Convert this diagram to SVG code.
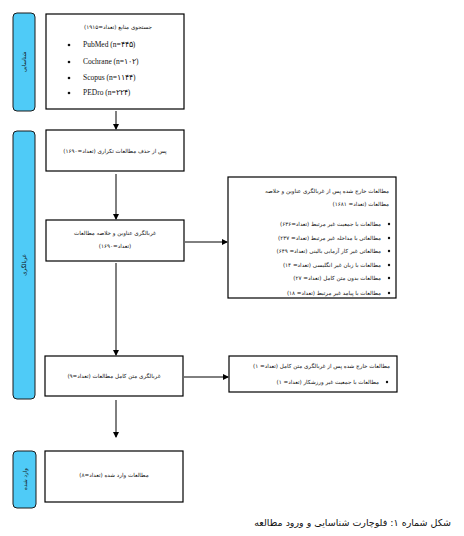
<svg xmlns="http://www.w3.org/2000/svg" width="464" height="536" viewBox="0 0 464 536">
<style>
.box{fill:#fff;stroke:#000;stroke-width:1.2}
.side{fill:#4FCBF7;stroke:#1a1a1a;stroke-width:1}
.fa{font-family:"DejaVu Sans",sans-serif;font-size:5.6px;fill:#111;direction:rtl;unicode-bidi:embed}
.lat{font-family:"Liberation Serif",serif;font-size:7.5px;fill:#111}
.cap{font-family:"DejaVu Sans",sans-serif;font-size:9.5px;fill:#111;direction:rtl;unicode-bidi:embed}
.ln{stroke:#000;stroke-width:1;fill:none}
</style>
<defs>
<marker id="ah" markerWidth="6" markerHeight="6" refX="5" refY="3" orient="auto" markerUnits="userSpaceOnUse">
<path d="M0,0 L6,3 L0,6 Z" fill="#000"/>
</marker>
</defs>
<rect width="464" height="536" fill="#fff"/>

<g id="side1"><rect class="side" x="13" y="13" width="22" height="98" rx="4"/>
<text class="fa" transform="translate(26,62) rotate(-90)" text-anchor="middle">شناسایی</text></g>
<g id="side2"><rect class="side" x="13" y="131" width="22" height="268" rx="4"/>
<text class="fa" transform="translate(26,265) rotate(-90)" text-anchor="middle">غربالگری</text></g>
<g id="side3"><rect class="side" x="13" y="451" width="23" height="57" rx="4"/>
<text class="fa" transform="translate(27,479) rotate(-90)" text-anchor="middle">وارد شده</text></g>

<g id="search"><rect class="box" x="46" y="14" width="138" height="95"/>
<text class="fa" x="118" y="29" text-anchor="middle">جستجوی منابع (تعداد=۱۹۱۵)</text>
<g class="lat"><circle cx="69" cy="45" r="1.3"/><text x="83" y="47">PubMed (n=۴۴۵)</text>
<circle cx="69" cy="62" r="1.3"/><text x="83" y="64">Cochrane (n=۱۰۲)</text>
<circle cx="69" cy="78" r="1.3"/><text x="83" y="80">Scopus (n=۱۱۴۴)</text>
<circle cx="69" cy="93" r="1.3"/><text x="83" y="95">PEDro (n=۲۲۴)</text></g></g>

<g id="dedup"><rect class="box" x="46" y="130" width="138" height="41"/>
<text class="fa" x="115" y="153" text-anchor="middle">پس از حذف مطالعات تکراری (تعداد=۱۶۹۰)</text></g>

<g id="tascreen"><rect class="box" x="46" y="220" width="138" height="41"/>
<text class="fa" x="115" y="235" text-anchor="middle">غربالگری عناوین و خلاصه مطالعات</text>
<text class="fa" x="115" y="248" text-anchor="middle">(تعداد=۱۶۹۰)</text></g>

<g id="excl1"><rect class="box" x="228" y="177" width="168" height="121"/>
<text class="fa" x="389" y="193" text-anchor="start">مطالعات خارج شده پس از غربالگری عناوین و خلاصه</text>
<text class="fa" x="389" y="206" text-anchor="start">مطالعات (تعداد= ۱۶۸۱)</text>
<g fill="#111"><circle cx="389" cy="224" r="1.2"/><circle cx="389" cy="238" r="1.2"/><circle cx="389" cy="251" r="1.2"/><circle cx="389" cy="265" r="1.2"/><circle cx="389" cy="278" r="1.2"/><circle cx="389" cy="293" r="1.2"/></g>
<text class="fa" x="381" y="226" text-anchor="start">مطالعات با جمعیت غیر مرتبط (تعداد=۶۳۶)</text>
<text class="fa" x="381" y="240" text-anchor="start">مطالعاتی با مداخله غیر مرتبط (تعداد= ۲۳۷)</text>
<text class="fa" x="381" y="253" text-anchor="start">مطالعاتی غیر کار آزمایی بالینی (تعداد= ۶۴۹)</text>
<text class="fa" x="381" y="267" text-anchor="start">مطالعات با زبان غیر انگلیسی (تعداد= ۱۴)</text>
<text class="fa" x="381" y="280" text-anchor="start">مطالعات بدون متن کامل (تعداد= ۲۷)</text>
<text class="fa" x="381" y="295" text-anchor="start">مطالعات با پیامد غیر مرتبط (تعداد= ۱۸)</text></g>

<g id="ftscreen"><rect class="box" x="45" y="356" width="138" height="40"/>
<text class="fa" x="114" y="378" text-anchor="middle">غربالگری متن کامل مطالعات (تعداد=۹)</text></g>

<g id="excl2"><rect class="box" x="229" y="356" width="168" height="36"/>
<text class="fa" x="390" y="368" text-anchor="start">مطالعات خارج شده پس از غربالگری متن کامل (تعداد= ۱)</text>
<circle cx="387" cy="382" r="1.2" fill="#111"/>
<text class="fa" x="379" y="384" text-anchor="start">مطالعات با جمعیت غیر ورزشکار (تعداد= ۱)</text></g>

<g id="included"><rect class="box" x="45" y="451" width="138" height="51"/>
<text class="fa" x="114" y="477" text-anchor="middle">مطالعات وارد شده (تعداد=۸)</text></g>

<g id="connectors">
<line class="ln" x1="116" y1="111" x2="116" y2="129" marker-end="url(#ah)"/>
<line class="ln" x1="116" y1="174" x2="116" y2="219" marker-end="url(#ah)"/>
<line class="ln" x1="185" y1="242" x2="227" y2="242" marker-end="url(#ah)"/>
<line class="ln" x1="116" y1="263" x2="116" y2="355" marker-end="url(#ah)"/>
<line class="ln" x1="184" y1="377" x2="228" y2="377" marker-end="url(#ah)"/>
<line class="ln" x1="116" y1="400" x2="116" y2="437" marker-end="url(#ah)"/>
</g>

<text class="cap" x="451" y="526" text-anchor="start">شکل شماره ۱: فلوچارت شناسایی و ورود مطالعه</text>
</svg>
